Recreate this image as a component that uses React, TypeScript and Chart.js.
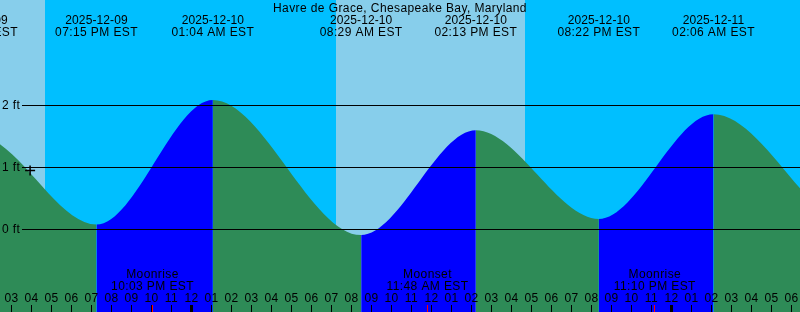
import { useEffect, useRef } from 'react';
import { Chart, registerables } from 'chart.js';

Chart.register(...registerables);

// All times are hours relative to 2025-12-10 00:00 EST
const TITLE = 'Havre de Grace, Chesapeake Bay, Maryland';

const tideTimes = [-17.2, -10.75, -4.75, 1.067, 8.483, 14.217, 20.367, 26.1, 33.5, 39.6];
const tideHeights = [0.1, 1.52, 0.08, 2.09, -0.09, 1.6, 0.17, 1.86, -0.05, 1.7];
const tideDates = ['', '2025-12-09', '2025-12-09', '2025-12-10', '2025-12-10', '2025-12-10', '2025-12-10', '2025-12-11', '', ''];
const tideClock = ['', '01:15 PM EST', '07:15 PM EST', '01:04 AM EST', '08:29 AM EST', '02:13 PM EST', '08:22 PM EST', '02:06 AM EST', '', ''];

const dayStarts = [-16.78, 7.225];
const dayEnds = [-7.325, 16.675];

const moonTimes = [-1.95, 11.8, 23.167];
const moonKinds = ['Moonrise', 'Moonset', 'Moonrise'];
const moonClock = ['10:03 PM EST', '11:48 AM EST', '11:10 PM EST'];

const firstHour = -9;
const hourLabels = [
  '03', '04', '05', '06', '07', '08', '09', '10', '11', '12',
  '01', '02', '03', '04', '05', '06', '07', '08', '09', '10', '11', '12',
  '01', '02', '03', '04', '05', '06', '07', '08', '09', '10', '11', '12',
  '01', '02', '03', '04', '05', '06',
];

const gridLevels = [0, 1, 2];
const gridLabels = ['0 ft', '1 ft', '2 ft'];

const nowTime = [-8.07];
const nowHeight = [0.95];

const X_MIN = -9.575;
const X_MAX = 30.425;
const Y_MIN = -1.3306;
const Y_MAX = 3.7016;

const NIGHT = '#00BFFF';
const DAY = '#87CEEB';
const FALL = '#2E8B57';
const RISE = '#0000FF';
const FONT = '12px "Liberation Sans", Arial, sans-serif';

const overlay = {
  id: 'overlay',
  beforeDraw(chart: any) {
    const { ctx } = chart;
    const x = chart.scales.x;
    ctx.save();
    ctx.fillStyle = NIGHT;
    ctx.fillRect(0, 0, chart.width, chart.height);
    ctx.fillStyle = DAY;
    dayStarts.forEach((s, i) => {
      const a = x.getPixelForValue(s);
      const b = x.getPixelForValue(dayEnds[i]);
      ctx.fillRect(Math.round(a), 0, Math.round(b) - Math.round(a), chart.height);
    });
    ctx.restore();
  },
  afterDatasetsDraw(chart: any) {
    const { ctx } = chart;
    const x = chart.scales.x;
    const y = chart.scales.y;
    const W = chart.width;
    ctx.save();
    ctx.font = FONT;
    (ctx as any).letterSpacing = '0.4px';
    ctx.fillStyle = '#000';
    ctx.textBaseline = 'alphabetic';

    // grid lines + labels
    gridLevels.forEach((lv, i) => {
      const py = Math.floor(y.getPixelForValue(lv));
      ctx.fillStyle = '#000';
      ctx.fillRect(22, py, W - 22, 1);
      ctx.textAlign = 'left';
      ctx.fillText(gridLabels[i], 2, py + 4);
    });

    // title
    ctx.textAlign = 'center';
    ctx.fillText(TITLE, 400, 12);

    // tide event labels
    tideTimes.forEach((t, i) => {
      if (!tideDates[i]) return;
      const px = x.getPixelForValue(t);
      (ctx as any).letterSpacing = '0.1px';
      ctx.fillText(tideDates[i], px, 23.5);
      (ctx as any).letterSpacing = '0.4px';
      ctx.fillText(tideClock[i], px, 36);
    });

    // moon labels
    moonTimes.forEach((t, i) => {
      const px = x.getPixelForValue(t);
      ctx.fillText(moonKinds[i], px, 278);
      ctx.fillText(moonClock[i], px, 290);
    });

    // hour labels and ticks
    hourLabels.forEach((lab, i) => {
      const h = firstHour + i;
      const px = x.getPixelForValue(h);
      ctx.fillStyle = '#000';
      ctx.fillText(lab, px, 302);
      const isMidnight = ((h % 24) + 24) % 24 === 0;
      if (isMidnight) ctx.fillRect(Math.floor(px) - 1, 305, 3, 7);
      else ctx.fillRect(Math.floor(px), 305, 1, 7);
    });

    // moon event ticks
    ctx.fillStyle = '#FF0000';
    moonTimes.forEach((t) => {
      const px = x.getPixelForValue(t);
      ctx.fillRect(Math.floor(px), 305, 1, 7);
    });

    ctx.restore();
  },
};

export default function App() {
  const ref = useRef<HTMLCanvasElement | null>(null);

  useEffect(() => {
    if (!ref.current) return;
    const chart = new Chart(ref.current, {
      type: 'line',
      data: {
        datasets: [
          {
            type: 'scatter',
            data: nowTime.map((t, i) => ({ x: t, y: nowHeight[i] })),
            pointStyle: 'cross',
            pointRadius: 5,
            borderColor: '#000',
            borderWidth: 1.5,
            order: 0,
          } as any,
          {
            data: tideTimes.map((t, i) => ({ x: t, y: tideHeights[i] })),
            fill: 'start',
            backgroundColor: FALL,
            borderColor: 'rgba(0,0,0,0)',
            borderWidth: 0,
            pointRadius: 0,
            cubicInterpolationMode: 'monotone',
            capBezierPoints: false,
            order: 1,
            segment: {
              backgroundColor: (c: any) => (c.p1.parsed.y > c.p0.parsed.y ? RISE : FALL),
            },
          } as any,
        ],
      },
      options: {
        animation: false,
        responsive: false,
        devicePixelRatio: 1,
        layout: { padding: 0, autoPadding: false },
        plugins: { legend: { display: false }, tooltip: { enabled: false } },
        events: [],
        scales: {
          x: { type: 'linear', min: X_MIN, max: X_MAX, display: false },
          y: { type: 'linear', min: Y_MIN, max: Y_MAX, display: false },
        },
      },
      plugins: [overlay],
    });
    return () => chart.destroy();
  }, []);

  return (
    <div style={{ position: 'fixed', left: 0, top: 0, width: 800, height: 312 }}>
      <canvas ref={ref} width={800} height={312} style={{ display: 'block' }} />
    </div>
  );
}
